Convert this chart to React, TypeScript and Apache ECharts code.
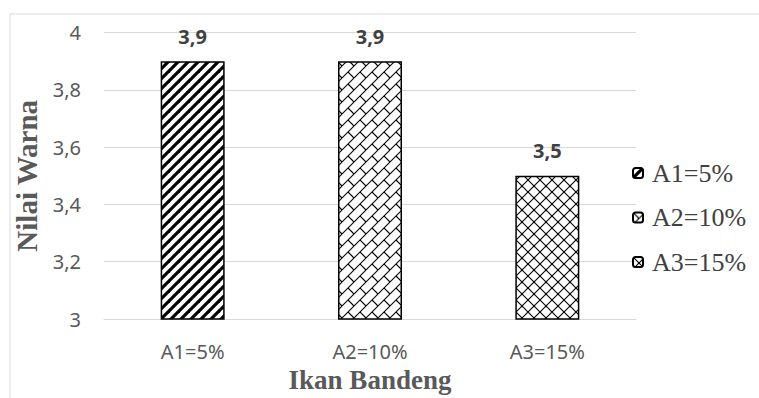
import React, { useEffect, useRef } from "react";
import * as echarts from "echarts";

// Ikan Bandeng colour score per treatment
const categories = ["A1=5%", "A2=10%", "A3=15%"];
const seriesNames = ["A1=5%", "A2=10%", "A3=15%"];
const values = [3.9, 3.9, 3.5];
const yTicks = { min: 3, max: 4, interval: 0.2 };

const fmt = (v: number) => {
  const s = Number.isInteger(v) ? String(v) : v.toFixed(1);
  return s.replace(".", ",");
};

// Hatch tile: thick forward-slash stripes
function stripeTile(): HTMLCanvasElement {
  const c = document.createElement("canvas");
  const n = 10;
  c.width = n;
  c.height = n;
  const g = c.getContext("2d")!;
  g.fillStyle = "#fff";
  g.fillRect(0, 0, n, n);
  g.strokeStyle = "#000";
  g.lineWidth = 3.2;
  for (let s = -n; s <= 3 * n; s += n) {
    g.beginPath();
    g.moveTo(-n, s + n);
    g.lineTo(2 * n, s - 2 * n);
    g.stroke();
  }
  return c;
}

// Hatch tile: diagonal brick weave
function brickTile(): HTMLCanvasElement {
  const c = document.createElement("canvas");
  const n = 24;
  const a = 12;
  c.width = n;
  c.height = n;
  const g = c.getContext("2d")!;
  g.fillStyle = "#fff";
  g.fillRect(0, 0, n, n);
  g.strokeStyle = "#000";
  g.lineWidth = 1.1;
  for (let s = -2 * n; s <= 4 * n; s += a) {
    g.beginPath();
    g.moveTo(-n, s + n);
    g.lineTo(2 * n, s - 2 * n);
    g.stroke();
  }
  for (let m = -6; m <= 10; m++) {
    const even = ((m % 2) + 2) % 2 === 0;
    for (let c0 = -4 * n; c0 <= 4 * n; c0 += n) {
      const cc = even ? c0 : c0 + a;
      const s1 = a * m;
      const s2 = a * (m + 1);
      g.beginPath();
      g.moveTo((s1 + cc) / 2, (s1 - cc) / 2);
      g.lineTo((s2 + cc) / 2, (s2 - cc) / 2);
      g.stroke();
    }
  }
  return c;
}

// Hatch tile: diamond lattice
function latticeTile(): HTMLCanvasElement {
  const c = document.createElement("canvas");
  const n = 12;
  c.width = n;
  c.height = n;
  const g = c.getContext("2d")!;
  g.fillStyle = "#fff";
  g.fillRect(0, 0, n, n);
  g.strokeStyle = "#000";
  g.lineWidth = 1.1;
  g.beginPath();
  g.moveTo(0, 0);
  g.lineTo(n, n);
  g.moveTo(0, n);
  g.lineTo(n, 0);
  g.stroke();
  g.fillStyle = "#000";
  g.fillRect(n / 2 - 1, n / 2 - 1, 2, 2);
  return c;
}

export default function App() {
  const ref = useRef<HTMLDivElement>(null);

  useEffect(() => {
    document.body.style.margin = "0";
    if (!ref.current) return;
    const chart = echarts.init(ref.current, undefined, { renderer: "svg" });
    const tiles = [stripeTile(), brickTile(), latticeTile()];
    const sansFont = "'Noto Sans', sans-serif";
    const serifFont = "'Liberation Serif', 'Times New Roman', serif";

    chart.setOption({
      animation: false,
      backgroundColor: "#ffffff",
      graphic: [
        {
          type: "rect",
          shape: { x: 10, y: 14, width: 800, height: 420 },
          style: { fill: "none", stroke: "#d9d9d9", lineWidth: 1 },
          silent: true,
          z: -10,
        },
      ],
      grid: { left: 104, right: 123, top: 32.5, bottom: 73, containLabel: false },
      legend: {
        orient: "vertical",
        left: 627,
        top: 154.5,
        itemWidth: 10,
        itemHeight: 10,
        itemGap: 17.5,
        data: seriesNames,
        textStyle: {
          fontFamily: serifFont,
          fontSize: 26,
          lineHeight: 27,
          color: "#404040",
          padding: [0, 0, 0, 4],
        },
      },
      xAxis: {
        type: "category",
        data: categories,
        name: "Ikan Bandeng",
        nameLocation: "middle",
        nameGap: 47,
        nameTextStyle: {
          fontFamily: serifFont,
          fontWeight: "bold",
          fontSize: 27,
          color: "#595959",
        },
        axisLine: { show: true, lineStyle: { color: "#d9d9d9", width: 1 } },
        axisTick: { show: false },
        axisLabel: {
          fontFamily: sansFont,
          fontSize: 20,
          color: "#595959",
          margin: 22,
        },
      },
      yAxis: {
        type: "value",
        min: yTicks.min,
        max: yTicks.max,
        interval: yTicks.interval,
        name: "Nilai Warna",
        nameLocation: "middle",
        nameGap: 59,
        nameTextStyle: {
          fontFamily: serifFont,
          fontWeight: "bold",
          fontSize: 29,
          color: "#595959",
          padding: [8, 0, 0, 0],
        },
        axisLine: { show: false },
        axisTick: { show: false },
        splitLine: { lineStyle: { color: "#d9d9d9", width: 1 } },
        axisLabel: {
          fontFamily: sansFont,
          fontSize: 20,
          color: "#595959",
          margin: 23,
          formatter: (v: number) => fmt(v),
        },
      },
      series: seriesNames.map((name, i) => ({
        name,
        type: "bar",
        barWidth: 64,
        barGap: "-100%",
        data: categories.map((_, j) => (j === i ? values[i] : "-")),
        itemStyle: {
          color: { image: tiles[i], repeat: "repeat" },
          borderColor: "#000",
          borderWidth: 1.5,
        },
        label: {
          show: true,
          position: "top",
          distance: 15,
          fontFamily: sansFont,
          fontWeight: "bold",
          fontSize: 20,
          color: "#404040",
          formatter: (p: any) => fmt(p.value),
        },
      })),
    });

    return () => chart.dispose();
  }, []);

  return (
    <div
      ref={ref}
      style={{ position: "absolute", left: 0, top: 0, width: 759, height: 398 }}
    />
  );
}
